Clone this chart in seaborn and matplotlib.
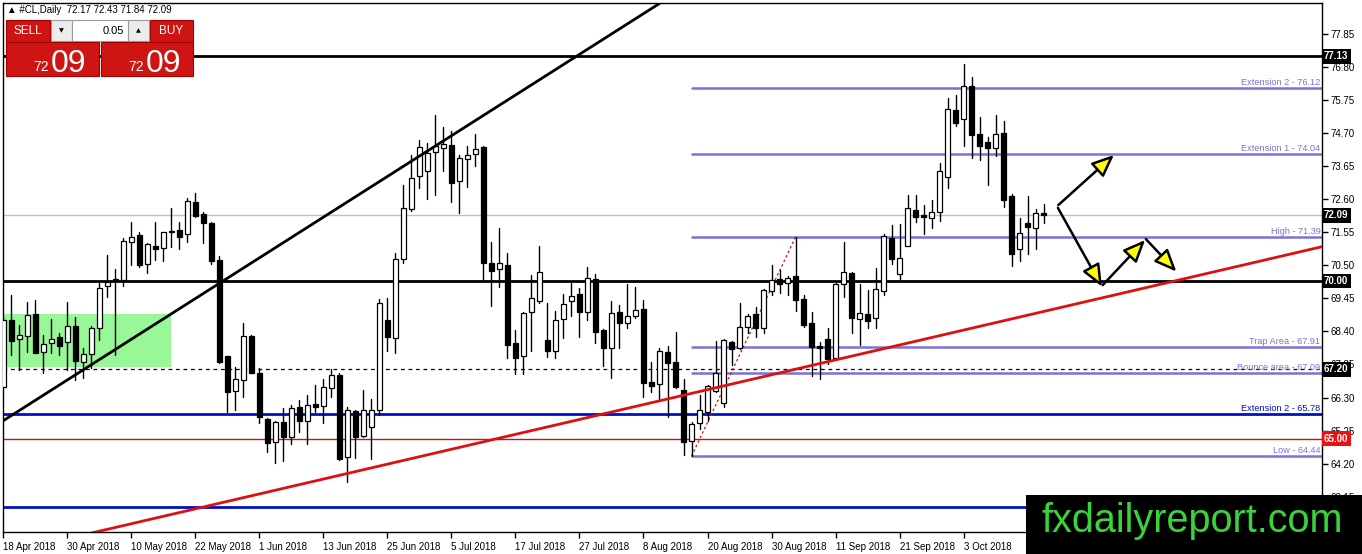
import matplotlib
matplotlib.use('Agg')
import matplotlib.pyplot as plt
import matplotlib.transforms as mtransforms
from matplotlib.patches import Rectangle, FancyArrowPatch
import seaborn as sns
import numpy as np
import pandas as pd

# --- data --------------------------------------------------------------
symbol = '#CL,Daily'

opens = [66.65, 68.76, 68.15, 68.26, 68.94, 67.76, 68.02, 68.21, 68.07, 68.57,
         67.44, 67.68, 68.50, 69.84, 70.03, 70.03, 71.23, 71.46, 70.53, 71.12,
         71.04, 71.57, 71.62, 71.49, 72.52, 72.13, 71.83, 70.67, 67.62, 66.51,
         66.86, 68.25, 67.09, 65.62, 64.90, 65.51, 65.06, 65.99, 65.56, 66.08,
         66.03, 66.59, 67.02, 64.40, 65.88, 65.08, 65.38, 65.90, 68.76, 68.18,
         70.69, 72.27, 73.33, 73.50, 74.08, 74.21, 74.32, 73.19, 73.86, 74.03,
         74.24, 70.56, 70.37, 70.51, 68.02, 67.63, 69.01, 69.38, 68.13, 67.79,
         68.78, 69.38, 69.58, 69.01, 70.05, 68.44, 67.86, 69.02, 68.66, 68.90,
         69.10, 66.78, 66.72, 67.75, 67.42, 66.54, 64.93, 65.48, 65.85, 66.52,
         66.12, 68.07, 67.86, 68.55, 68.94, 68.52, 69.69, 70.06, 69.93, 70.16,
         69.43, 68.66, 67.94, 68.16, 67.55, 69.89, 70.24, 68.78, 68.94, 68.82,
         69.69, 71.38, 70.21, 71.12, 72.25, 72.10, 72.01, 72.18, 73.29, 75.43,
         75.13, 76.19, 74.66, 74.40, 74.21, 74.69, 72.70, 71.01, 71.83, 71.67,
         72.17]
highs = [68.87, 69.56, 68.60, 69.34, 69.40, 68.29, 68.78, 68.34, 69.32, 68.87,
         67.86, 68.58, 69.98, 70.82, 70.37, 71.35, 71.86, 71.57, 71.20, 71.88,
         71.57, 72.31, 71.88, 72.62, 72.80, 72.20, 71.88, 70.79, 67.62, 67.28,
         68.66, 68.29, 67.23, 65.64, 65.57, 65.96, 66.06, 66.22, 66.38, 66.70,
         66.88, 67.20, 67.09, 66.01, 65.90, 66.54, 66.24, 69.42, 69.45, 70.88,
         73.05, 74.00, 74.48, 74.37, 75.27, 74.90, 74.77, 74.00, 74.27, 74.67,
         74.29, 71.25, 71.67, 70.88, 68.45, 69.03, 70.19, 71.11, 69.31, 69.06,
         69.59, 69.95, 69.77, 70.46, 70.22, 68.47, 69.37, 69.24, 69.90, 69.82,
         69.40, 67.42, 67.88, 67.94, 68.37, 66.88, 65.51, 66.38, 66.70, 68.10,
         68.16, 68.11, 69.29, 68.95, 69.19, 69.75, 70.51, 70.35, 70.16, 71.39,
         69.56, 69.01, 68.07, 68.52, 69.93, 71.25, 70.30, 69.89, 69.71, 70.40,
         71.48, 71.78, 71.81, 72.73, 72.73, 72.41, 72.57, 73.76, 75.80, 75.90,
         76.89, 76.49, 75.22, 74.58, 75.27, 75.08, 72.75, 71.99, 72.70, 72.29,
         72.43]
lows = [66.59, 67.65, 67.17, 67.76, 67.70, 67.09, 67.72, 67.65, 67.17, 66.86,
        66.91, 67.23, 68.13, 69.50, 67.65, 69.84, 70.51, 70.46, 70.26, 70.67,
        70.65, 71.09, 71.00, 71.25, 72.04, 71.20, 70.54, 67.41, 65.85, 65.90,
        66.33, 67.07, 65.50, 64.58, 64.23, 64.30, 64.81, 65.22, 64.83, 65.85,
        65.50, 66.33, 64.32, 63.62, 64.37, 65.04, 64.34, 65.75, 67.79, 67.72,
        70.56, 72.23, 72.94, 72.59, 72.73, 73.50, 72.52, 72.15, 72.99, 73.66,
        70.03, 69.22, 69.82, 67.57, 67.04, 67.04, 67.79, 69.29, 67.60, 67.57,
        68.20, 68.90, 68.23, 68.76, 68.04, 67.31, 66.91, 67.86, 68.50, 68.81,
        66.33, 66.49, 66.22, 65.69, 66.59, 64.48, 64.44, 65.29, 65.57, 66.49,
        65.99, 67.33, 67.83, 68.34, 68.21, 68.36, 69.56, 69.63, 69.56, 69.06,
        68.55, 67.00, 66.88, 67.37, 67.51, 69.50, 68.34, 67.97, 68.52, 68.52,
        69.56, 70.54, 70.03, 71.12, 71.88, 71.48, 71.69, 71.90, 72.94, 74.93,
        74.30, 73.90, 73.84, 73.05, 73.98, 72.36, 70.49, 70.65, 70.85, 71.02,
        71.84]
closes = [68.76, 68.11, 68.29, 68.92, 67.72, 68.00, 68.15, 67.95, 68.58, 67.47,
          67.68, 68.50, 69.77, 69.98, 70.06, 71.27, 71.39, 70.51, 71.16, 71.00,
          71.54, 71.59, 71.39, 72.55, 72.07, 71.83, 70.65, 67.44, 66.49, 66.88,
          68.25, 67.09, 65.69, 64.87, 65.51, 65.04, 65.96, 65.57, 66.06, 66.01,
          66.62, 67.02, 64.34, 65.90, 65.06, 65.90, 65.90, 69.29, 68.21, 70.70,
          72.31, 73.26, 74.24, 74.05, 74.29, 74.35, 73.12, 73.89, 73.99, 74.18,
          70.58, 70.33, 70.58, 67.97, 67.57, 68.97, 69.45, 70.30, 67.79, 68.76,
          69.27, 69.53, 69.00, 70.08, 68.39, 67.86, 68.97, 68.66, 68.89, 69.07,
          66.77, 66.68, 67.78, 67.41, 66.65, 64.90, 65.45, 65.89, 66.67, 67.07,
          68.13, 67.83, 68.53, 68.90, 68.50, 69.71, 70.03, 69.89, 70.11, 69.40,
          68.60, 67.89, 67.86, 67.51, 69.89, 70.30, 68.82, 68.97, 68.74, 69.74,
          71.43, 70.69, 70.72, 72.31, 72.04, 72.02, 72.18, 73.50, 75.45, 75.03,
          76.20, 74.64, 74.27, 74.21, 74.66, 72.57, 70.86, 71.51, 71.73, 72.15,
          72.09]

date_labels = ['18 Apr 2018', '30 Apr 2018', '10 May 2018', '22 May 2018',
               '1 Jun 2018', '13 Jun 2018', '25 Jun 2018', '5 Jul 2018',
               '17 Jul 2018', '27 Jul 2018', '8 Aug 2018', '20 Aug 2018',
               '30 Aug 2018', '11 Sep 2018', '21 Sep 2018', '3 Oct 2018']
price_labels = ['77.85', '76.80', '75.75', '74.70', '73.65', '72.60', '71.55',
                '70.50', '69.45', '68.40', '67.35', '66.30', '65.25', '64.20',
                '63.15']

black_levels = [77.13, 70.00]
blue_levels = [65.78, 62.83]
red_level = 65.00
dashed_level = 67.20
last_price = 72.09

fib_names = ['Extension 2', 'Extension 1', 'High', 'Trap Area', 'Bounce area', 'Low']
fib_values = [76.12, 74.04, 71.39, 67.91, 67.09, 64.44]
fib_start_bar = 86
swing_bars = [86, 99]
swing_prices = [64.44, 71.39]

zone_bars = [0, 21]
zone_prices = [67.27, 68.95]

trend_black_bars = [0, 82]
trend_black_prices = [65.57, 78.81]
trend_red_bars = [0, 165]
trend_red_prices = [61.35, 71.10]

arrow_from = [(131.85, 72.41), (131.8, 72.32), (137.4, 69.87), (142.8, 71.33)]
arrow_to = [(138.8, 74.00), (137.3, 69.82), (142.7, 71.30), (146.6, 70.30)]

# --- figure ------------------------------------------------------------
sns.set_theme(style='white')
plt.rcParams['font.family'] = ['Liberation Sans', 'DejaVu Sans']

W, H = 1362, 554
fig = plt.figure(figsize=(W / 100, H / 100), dpi=100)
fig.patch.set_facecolor('white')
ax = fig.add_axes([3 / W, (H - 532) / H, 1319 / W, 529 / H])
ax.set_facecolor('white')

df = pd.DataFrame({'open': opens, 'high': highs, 'low': lows, 'close': closes})
df['bar'] = np.arange(len(df))
up = df['close'] >= df['open']

# green zone
ax.add_patch(Rectangle((zone_bars[0] - 0.5, zone_prices[0]), zone_bars[1] - zone_bars[0] + 0.5,
                       zone_prices[1] - zone_prices[0], facecolor='#98f898', edgecolor='none', zorder=1))

# horizontal levels
ax.axhline(last_price, color='#c0c0c0', lw=1, zorder=2)
ax.axhline(dashed_level, color='black', lw=0.9, ls=(0, (3, 3)), zorder=2)
ax.axhline(red_level, color='#d01010', lw=1, zorder=2)
for lv in blue_levels:
    ax.axhline(lv, color='#0010c8', lw=2, zorder=2)
for lv in black_levels:
    ax.axhline(lv, color='black', lw=2, zorder=2)

fib_color = '#7b72d6'
for name, v in zip(fib_names, fib_values):
    ax.plot([fib_start_bar, 200], [v, v], color=fib_color, lw=1.8, zorder=2)
    ax.text(164.6, v + 0.03, f'{name} - {v:.2f}', ha='right', va='bottom',
            color=fib_color, fontsize=6.6, zorder=6)
ax.text(164.6, blue_levels[0] + 0.03, f'Extension 2 - {blue_levels[0]:.2f}', ha='right',
        va='bottom', color='#0010c8', fontsize=6.6, zorder=6)

ax.plot(swing_bars, swing_prices, color='#d01010', lw=0.9, ls=(0, (2, 2)), zorder=2)

# trendlines
ax.plot(trend_black_bars, trend_black_prices, color='black', lw=2, zorder=5)
ax.plot(trend_red_bars, trend_red_prices, color='#dd1010', lw=2, zorder=5)

# candles: wicks with seaborn, bodies as floating bars
wicks = pd.DataFrame({'bar': np.repeat(df['bar'].values, 2),
                      'price': np.column_stack([df['low'], df['high']]).ravel()})
sns.lineplot(data=wicks, x='bar', y='price', units='bar', estimator=None,
             color='black', lw=1, ax=ax, legend=False, zorder=3)
body_lo = np.minimum(df['open'], df['close'])
body_h = np.maximum(np.abs(df['close'] - df['open']), 0.03)
ax.bar(df['bar'], body_h, bottom=body_lo, width=0.62,
       color=np.where(up, 'white', 'black'), edgecolor='black', lw=0.9, zorder=4)

# arrows
for (x0, y0), (x1, y1) in zip(arrow_from, arrow_to):
    ax.add_patch(FancyArrowPatch((x0, y0), (x1, y1),
                                 arrowstyle='-|>,head_length=0.75,head_width=0.32',
                                 mutation_scale=18, lw=1.8, edgecolor='black',
                                 facecolor='#ffff00', shrinkA=0, shrinkB=0, zorder=6))

# axes
ax.set_xlim(-0.06, 164.81)
ax.set_ylim(62.032, 78.825)
ax.set_xticks(np.arange(0, 8 * len(date_labels), 8))
ax.set_xticklabels(date_labels, ha='left')
ax.yaxis.tick_right()
ax.set_yticks([float(t) for t in price_labels])
ax.set_yticklabels(price_labels)
ax.tick_params(axis='both', direction='out', length=4, width=1, colors='black',
               labelsize=7, pad=2, bottom=True, right=True, left=False)
ax.tick_params(axis='x', pad=3)
ax.set_xlabel('')
ax.set_ylabel('')
for s in ax.spines.values():
    s.set_color('black')
    s.set_linewidth(1)

trans = mtransforms.blended_transform_factory(ax.transAxes, ax.transData)
for lv, fc in [(black_levels[0], 'black'), (last_price, 'black'), (black_levels[1], 'black'),
               (dashed_level, 'black'), (red_level, '#ee1010')]:
    ax.text(1.0015, lv, f'{lv:.2f}', transform=trans, ha='left', va='center', color='white',
            fontsize=7, fontweight='bold', zorder=10, clip_on=False,
            bbox=dict(boxstyle='square,pad=0.25', fc=fc, ec='none'))

# --- overlay: trading panel, header, watermark -------------------------
ui = fig.add_axes([0, 0, 1, 1], zorder=10)
ui.set_xlim(0, W)
ui.set_ylim(H, 0)
ui.axis('off')
ui.patch.set_alpha(0)

ui.text(7, 10, f'\u25b2 {symbol}  {opens[-1]:.2f} {highs[-1]:.2f} {lows[-1]:.2f} {closes[-1]:.2f}',
        ha='left', va='center', fontsize=7, color='black')

red = '#cf1414'
ui.add_patch(Rectangle((6, 20), 44, 22, fc=red, ec='#a00000', lw=0.8))
ui.add_patch(Rectangle((150, 20), 43, 22, fc=red, ec='#a00000', lw=0.8))
ui.add_patch(Rectangle((51, 20), 21, 21, fc='#ececec', ec='#9a9a9a', lw=0.8))
ui.add_patch(Rectangle((72, 20), 56, 21, fc='white', ec='#9a9a9a', lw=0.8))
ui.add_patch(Rectangle((128, 20), 21, 21, fc='#ececec', ec='#9a9a9a', lw=0.8))
ui.add_patch(Rectangle((6, 42), 93, 34, fc=red, ec='#a00000', lw=0.8))
ui.add_patch(Rectangle((101, 42), 92, 34, fc=red, ec='#a00000', lw=0.8))
ui.text(28, 31, 'SELL', ha='center', va='center', color='white', fontsize=8.5)
ui.text(171.5, 31, 'BUY', ha='center', va='center', color='white', fontsize=8.5)
ui.text(61.5, 30.5, '\u25bc', ha='center', va='center', color='black', fontsize=4.5,
        family='DejaVu Sans')
ui.text(138.5, 30.5, '\u25b2', ha='center', va='center', color='black', fontsize=4.5,
        family='DejaVu Sans')
ui.text(124, 30.5, '0.05', ha='right', va='center', color='black', fontsize=8)
bid = f'{closes[-1]:.2f}'
for cx in (6, 101):
    ui.text(cx + 35.5, 71, bid[:2], ha='center', va='baseline', color='white', fontsize=10)
    ui.text(cx + 62.5, 72, bid[3:], ha='center', va='baseline', color='white', fontsize=23)

ui.add_patch(Rectangle((1026, 495), 336, 59, fc='black', ec='none'))
ui.text(1192, 521, 'fxdailyreport.com', ha='center', va='center', color='#3ad43a',
        fontsize=28.5)

fig.savefig('out.png', dpi=100, facecolor='white')
